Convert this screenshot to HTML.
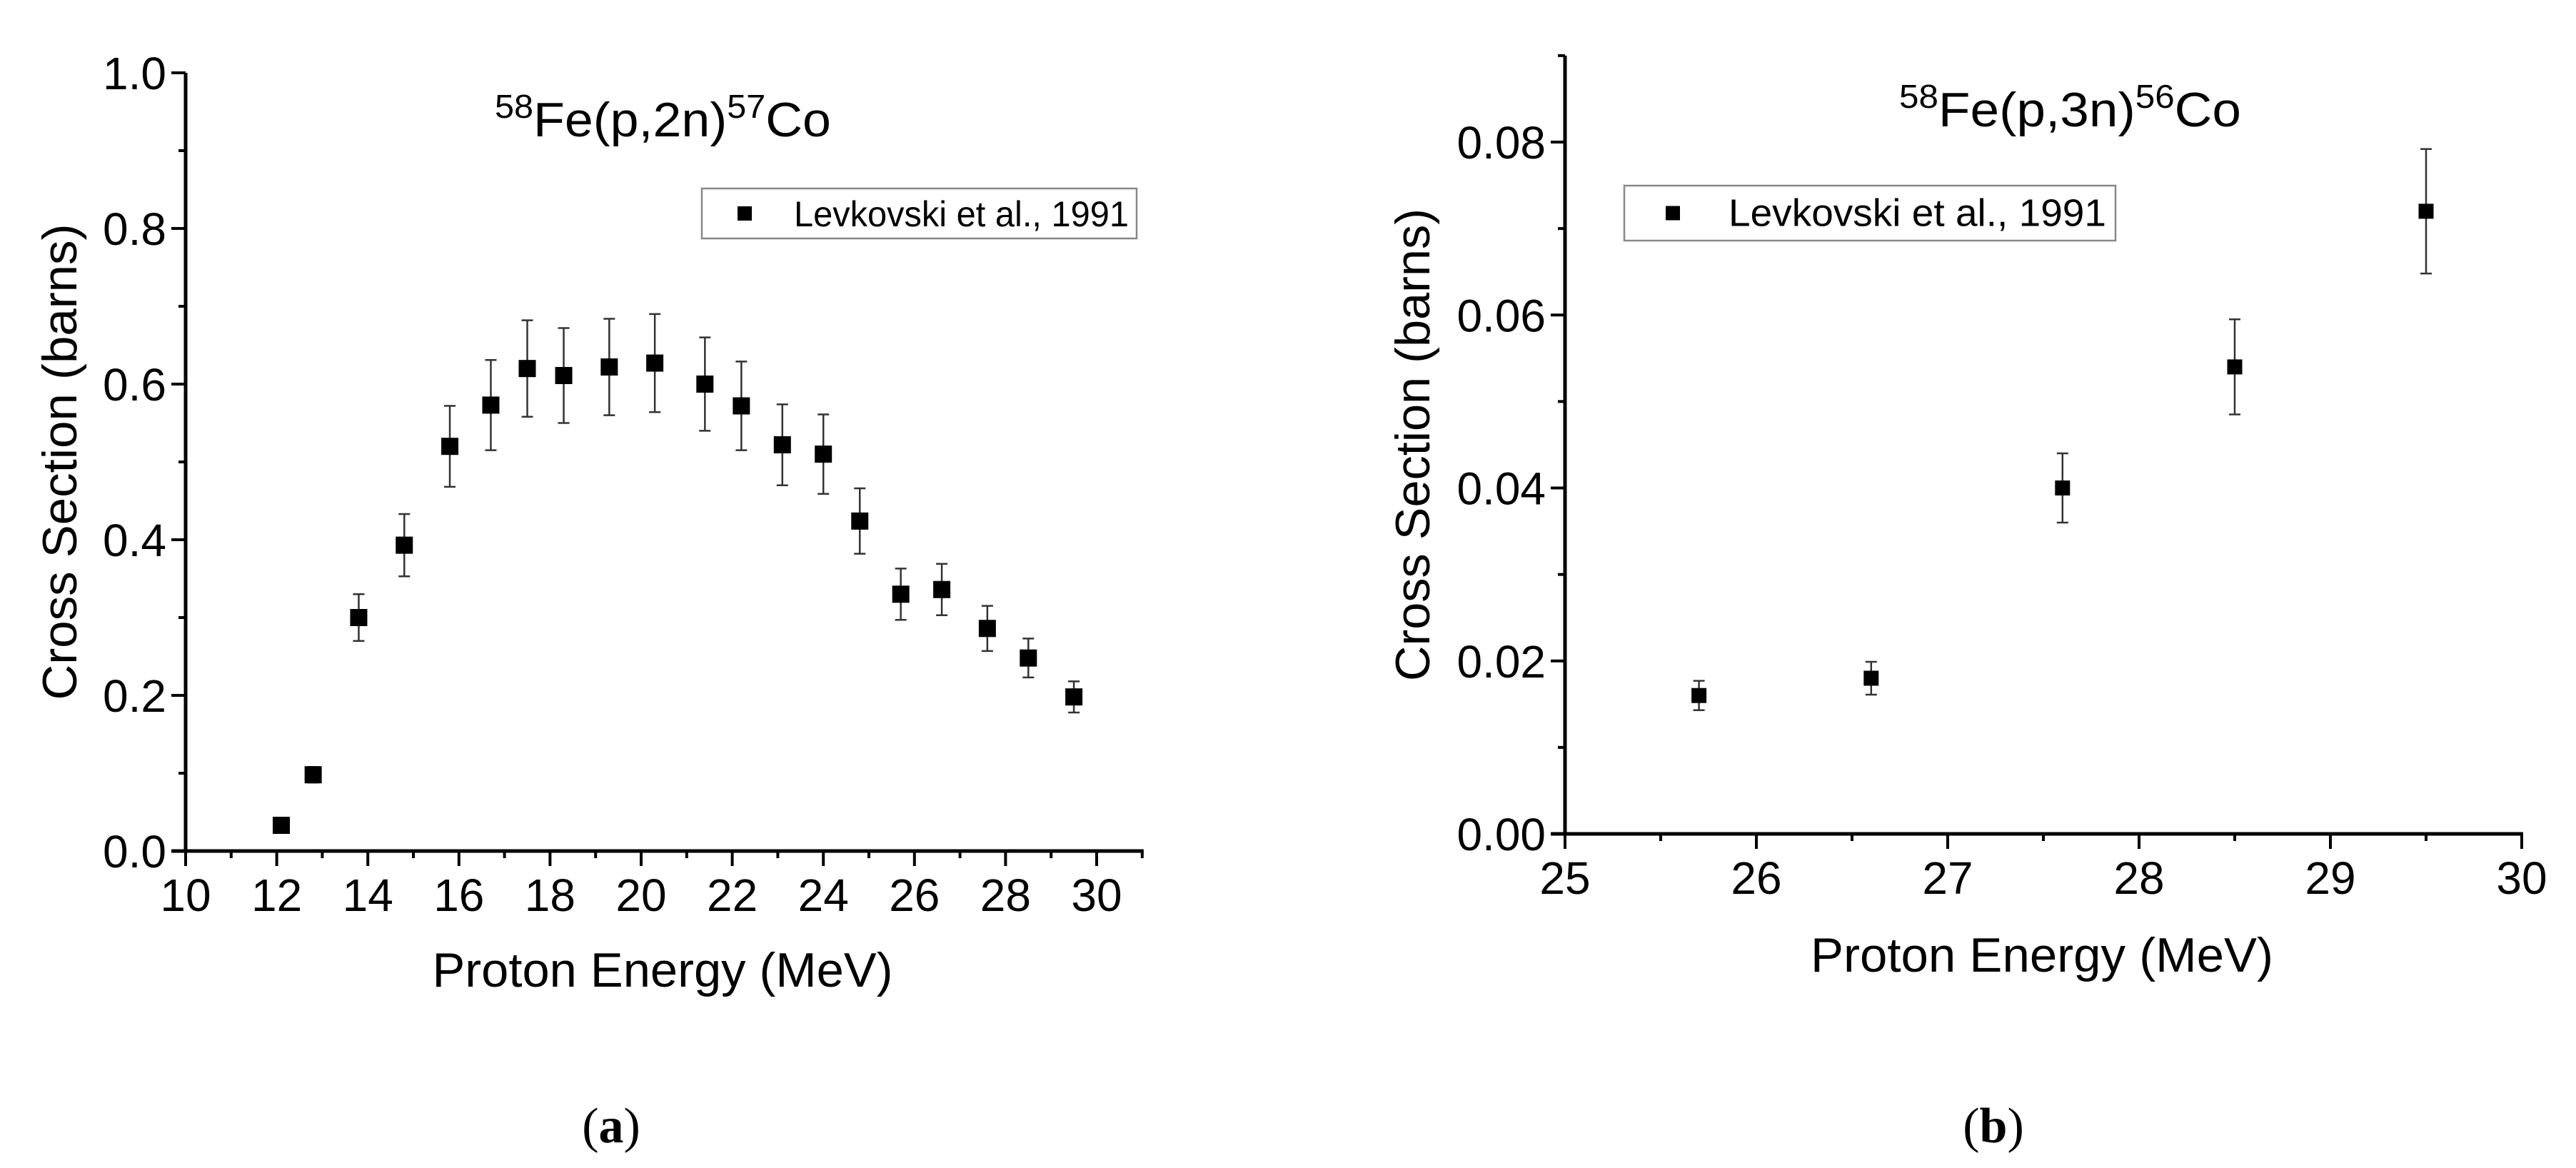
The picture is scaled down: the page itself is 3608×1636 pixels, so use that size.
<!DOCTYPE html>
<html><head><meta charset="utf-8"><style>
html,body{margin:0;padding:0;background:#fff;}
svg{display:block;font-family:"Liberation Sans",sans-serif;}
</style></head><body>
<svg id="fig" width="3608" height="1636" viewBox="0 0 3608 1636" xmlns="http://www.w3.org/2000/svg">
<rect width="3608" height="1636" fill="#fff"/>
<g id="pa"></g>
<g id="pb"></g>
</svg>
<script>
// Panel (a) data
const aEnergy = [12.1,12.8,13.8,14.8,15.8,16.7,17.5,18.3,19.3,20.3,21.4,22.2,23.1,24.0,24.8,25.7,26.6,27.6,28.5,29.5];
const aSigma  = [0.033,0.098,0.300,0.393,0.520,0.573,0.620,0.611,0.622,0.627,0.600,0.572,0.522,0.510,0.424,0.330,0.336,0.286,0.248,0.198];
const aErr    = [0.003,0.010,0.030,0.040,0.052,0.058,0.062,0.061,0.062,0.063,0.060,0.057,0.052,0.051,0.042,0.033,0.033,0.029,0.025,0.020];
const aXTicks = ["10","12","14","16","18","20","22","24","26","28","30"];
const aYTicks = ["0.0","0.2","0.4","0.6","0.8","1.0"];
// Panel (b) data
const bEnergy = [25.7,26.6,27.6,28.5,29.5];
const bSigma  = [0.016,0.018,0.040,0.054,0.072];
const bErr    = [0.0017,0.0019,0.004,0.0055,0.0072];
const bXTicks = ["25","26","27","28","29","30"];
const bYTicks = ["0.00","0.02","0.04","0.06","0.08"];

const NS="http://www.w3.org/2000/svg";
function mk(parent,tag,attrs,text){const e=document.createElementNS(NS,tag);for(const k in attrs)e.setAttribute(k,attrs[k]);if(text!==undefined)e.textContent=text;parent.appendChild(e);return e;}

function panel(g,cfg){
  const sx=v=>cfg.x0+(v-cfg.xmin)/(cfg.xmax-cfg.xmin)*(cfg.x1-cfg.x0);
  const sy=v=>cfg.y0-(v-cfg.ymin)/(cfg.ymax-cfg.ymin)*(cfg.y0-cfg.y1);
  const top=sy(cfg.ytop), right=sx(cfg.xend);
  const ya=mk(g,'line',{x1:cfg.x0,y1:top,x2:cfg.x0,y2:cfg.y0,stroke:'#000','stroke-width':5});
  
  
  const xa=mk(g,'line',{x1:cfg.x0-20,y1:cfg.y0,x2:right+2,y2:cfg.y0,stroke:'#000','stroke-width':5});
  
  
  for(let v=cfg.ymin; v<=cfg.ytop+1e-9; v+=cfg.yminor){
    const major=Math.abs(Math.round(v/cfg.ymajor)*cfg.ymajor-v)<1e-9;
    const t=mk(g,'line',{x1:cfg.x0-(major?20:10),y1:sy(v),x2:cfg.x0,y2:sy(v),stroke:'#000','stroke-width':4});
    
    
  }
  cfg.yTicks.forEach(s=>{
    const t=mk(g,'text',{x:cfg.x0-27,y:sy(parseFloat(s))+23,'text-anchor':'end','font-size':64},s);
    
    
  });
  for(let v=cfg.xmin; v<=cfg.xend+1e-9; v+=cfg.xminor){
    const major=Math.abs(Math.round((v-cfg.xmin)/cfg.xmajor)*cfg.xmajor-(v-cfg.xmin))<1e-9;
    const t=mk(g,'line',{x1:sx(v),y1:cfg.y0,x2:sx(v),y2:cfg.y0+(major?21:10),stroke:'#000','stroke-width':4});
    
    
  }
  cfg.xTicks.forEach(s=>{
    const t=mk(g,'text',{x:sx(parseFloat(s)),y:cfg.y0+84,'text-anchor':'middle','font-size':64},s);
    
    
  });
  cfg.xs.forEach((x,i)=>{
    const cx=sx(x), cy=sy(cfg.ys[i]), hi=sy(cfg.ys[i]+cfg.es[i]), lo=sy(cfg.ys[i]-cfg.es[i]);
    const eb=mk(g,'path',{d:`M${cx},${hi}V${lo}M${cx-8},${hi}H${cx+8}M${cx-8},${lo}H${cx+8}`,stroke:'#333','stroke-width':2.5,fill:'none'});
    
    
    const m=mk(g,'rect',{x:cx-cfg.ms/2,y:cy-cfg.ms/2,width:cfg.ms,height:cfg.ms,fill:'#000'});
    
    
  });
  const L=cfg.legend;
  const lb=mk(g,'rect',{x:L.x,y:L.y,width:L.w,height:L.h,fill:'#fff',stroke:'#888','stroke-width':2.5});
  
  
  const lm=mk(g,'rect',{x:L.mx-10,y:L.y+L.h/2-10,width:20,height:20,fill:'#000'});
  
  
  const lt=mk(g,'text',{x:L.tx,y:L.y+L.h/2+18,'font-size':L.fs,textLength:L.tl,lengthAdjust:'spacingAndGlyphs'},'Levkovski et al., 1991');
  
  
  const T=cfg.title;
  const tt=mk(g,'text',{x:T.x,y:T.y,'font-size':68,textLength:T.tl,lengthAdjust:'spacingAndGlyphs'});
  
  
  mk(tt,'tspan',{'font-size':46,dy:-26},'58');
  mk(tt,'tspan',{dy:26},T.mid);
  mk(tt,'tspan',{'font-size':46,dy:-26},T.sup2);
  mk(tt,'tspan',{dy:26},'Co');
  const yt=mk(g,'text',{x:0,y:0,'font-size':68,'text-anchor':'middle',textLength:cfg.ytl,lengthAdjust:'spacingAndGlyphs',transform:`translate(${cfg.ytx},${cfg.yty}) rotate(-90)`},'Cross Section (barns)');
  
  
  const xt=mk(g,'text',{x:cfg.xtx,y:cfg.xty,'font-size':68,'text-anchor':'middle',textLength:cfg.xtl,lengthAdjust:'spacingAndGlyphs'},'Proton Energy (MeV)');
  
  
  const cap=mk(g,'text',{x:cfg.capx,y:1600,'font-size':70,'text-anchor':'middle','font-family':'"Liberation Serif",serif'});
  
  
  mk(cap,'tspan',{},'(');
  mk(cap,'tspan',{'font-weight':'bold'},cfg.cap);
  mk(cap,'tspan',{},')');
}

panel(document.getElementById('pa'),{
  x0:260,x1:1536,xmin:10,xmax:30,xend:31,xmajor:2,xminor:1,
  y0:1192,y1:102,ymin:0,ymax:1,ytop:1,ymajor:0.2,yminor:0.1,
  xTicks:aXTicks,yTicks:aYTicks,xs:aEnergy,ys:aSigma,es:aErr,ms:24,
  legend:{x:983,y:264,w:609,h:70,mx:1043,tx:1112,fs:50,tl:469},
  title:{x:693,y:191,mid:'Fe(p,2n)',sup2:'57',tl:471},
  ytx:107,yty:647,ytl:667,xtx:928,xty:1382,xtl:645,capx:856,cap:'a'
});
panel(document.getElementById('pb'),{
  x0:2192,x1:3532,xmin:25,xmax:30,xend:30,xmajor:1,xminor:0.5,
  y0:1168,y1:199,ymin:0,ymax:0.08,ytop:0.09,ymajor:0.02,yminor:0.01,
  xTicks:bXTicks,yTicks:bYTicks,xs:bEnergy,ys:bSigma,es:bErr,ms:21,
  legend:{x:2275,y:260,w:688,h:77,mx:2343,tx:2421,fs:54,tl:529},
  title:{x:2660,y:177,mid:'Fe(p,3n)',sup2:'56',tl:479},
  ytx:2002,yty:623,ytl:662,xtx:2860,xty:1361,xtl:648,capx:2792,cap:'b'
});
</script>
</body></html>
